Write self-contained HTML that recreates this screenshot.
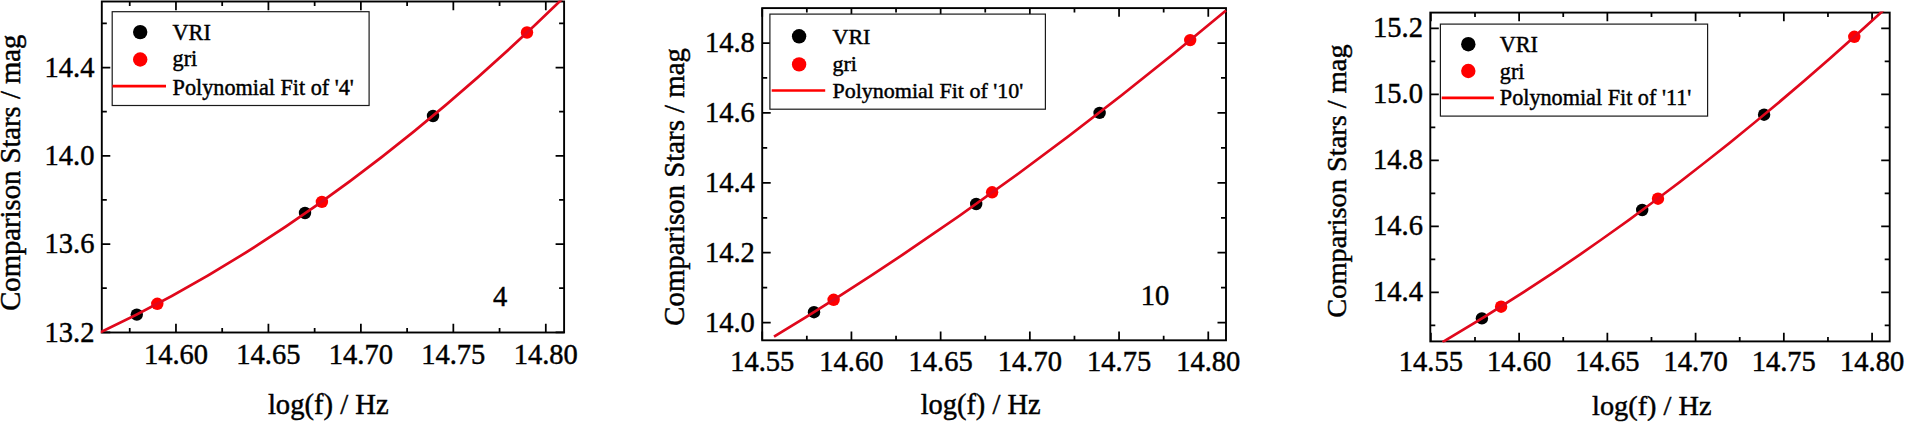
<!DOCTYPE html>
<html><head><meta charset="utf-8"><style>
html,body{margin:0;padding:0;background:#fff;width:1905px;height:422px;overflow:hidden}
svg{display:block}
text{font-family:"Liberation Serif", "Times New Roman", serif;fill:#000;stroke:#000;stroke-width:0.45px}
.tl{font-size:28.5px}
.ti{font-size:29px}
.lg{font-size:22.4px}
</style></head><body>
<svg width="1905" height="422" viewBox="0 0 1905 422">
<clipPath id="c0"><rect x="100.8" y="0.5" width="464.3" height="333.0"/></clipPath>
<circle cx="136.8" cy="314.6" r="6.2" fill="#000"/>
<circle cx="305.0" cy="213.0" r="6.2" fill="#000"/>
<circle cx="433.0" cy="116.0" r="6.2" fill="#000"/>
<circle cx="157.3" cy="303.8" r="6.2" fill="#f00"/>
<circle cx="321.9" cy="201.9" r="6.2" fill="#f00"/>
<circle cx="527.0" cy="32.5" r="6.2" fill="#f00"/>
<path d="M175.96,332.5v-8.7M175.96,1.5v8.7M268.42,332.5v-8.7M268.42,1.5v8.7M360.88,332.5v-8.7M360.88,1.5v8.7M453.34,332.5v-8.7M453.34,1.5v8.7M545.80,332.5v-8.7M545.80,1.5v8.7M129.73,332.5v-4.5M129.73,1.5v4.5M222.19,332.5v-4.5M222.19,1.5v4.5M314.65,332.5v-4.5M314.65,1.5v4.5M407.11,332.5v-4.5M407.11,1.5v4.5M499.57,332.5v-4.5M499.57,1.5v4.5M101.8,332.37h8.5M564.1,332.37h-8.5M101.8,244.09h8.5M564.1,244.09h-8.5M101.8,155.81h8.5M564.1,155.81h-8.5M101.8,67.53h8.5M564.1,67.53h-8.5M101.8,288.23h5M564.1,288.23h-5M101.8,199.95h5M564.1,199.95h-5M101.8,111.67h5M564.1,111.67h-5M101.8,23.39h5M564.1,23.39h-5" stroke="#000" stroke-width="1.75" fill="none"/>
<rect x="101.8" y="1.5" width="462.3" height="331.0" fill="none" stroke="#000" stroke-width="1.9"/>
<path d="M95.70,334.47Q329.90,225.94 564.10,-2.89" fill="none" stroke="#e0081c" stroke-width="2.7" clip-path="url(#c0)"/>
<rect x="112.2" y="11.7" width="256.90000000000003" height="93.8" fill="#fff" stroke="#1a1a1a" stroke-width="1.2"/>
<circle cx="140.2" cy="32.1" r="7.2" fill="#000"/>
<circle cx="140.2" cy="59.5" r="7.2" fill="#f00"/>
<path d="M112.5,86.1H166.0" stroke="#f00" stroke-width="2.6"/>
<text x="172.6" y="39.9" class="lg" style="font-size:22.2px">VRI</text>
<text x="172.6" y="66.1" class="lg" style="font-size:22.2px">gri</text>
<text x="172.6" y="94.8" class="lg" style="font-size:22.2px">Polynomial Fit of '4'</text>
<text x="94.4" y="341.6" class="tl" text-anchor="end">13.2</text>
<text x="94.4" y="253.3" class="tl" text-anchor="end">13.6</text>
<text x="94.4" y="165.0" class="tl" text-anchor="end">14.0</text>
<text x="94.4" y="76.7" class="tl" text-anchor="end">14.4</text>
<text x="176.0" y="363.5" class="tl" text-anchor="middle">14.60</text>
<text x="268.4" y="363.5" class="tl" text-anchor="middle">14.65</text>
<text x="360.9" y="363.5" class="tl" text-anchor="middle">14.70</text>
<text x="453.3" y="363.5" class="tl" text-anchor="middle">14.75</text>
<text x="545.8" y="363.5" class="tl" text-anchor="middle">14.80</text>
<text x="492.9" y="306.2" class="tl">4</text>
<text x="267.9" y="413.8" class="ti" style="font-size:28.6px">log(f) / Hz</text>
<text transform="translate(20.0,310.8) rotate(-90)" class="ti" style="font-size:28.66px">Comparison Stars / mag</text>
<clipPath id="c1"><rect x="761.2" y="7.1" width="465.79999999999995" height="334.2"/></clipPath>
<circle cx="814.0" cy="312.2" r="6.2" fill="#000"/>
<circle cx="976.2" cy="204.0" r="6.2" fill="#000"/>
<circle cx="1099.6" cy="112.9" r="6.2" fill="#000"/>
<circle cx="833.6" cy="299.8" r="6.2" fill="#f00"/>
<circle cx="992.1" cy="192.3" r="6.2" fill="#f00"/>
<circle cx="1190.2" cy="40.1" r="6.2" fill="#f00"/>
<path d="M762.23,340.3v-8.7M762.23,8.1v8.7M851.43,340.3v-8.7M851.43,8.1v8.7M940.64,340.3v-8.7M940.64,8.1v8.7M1029.85,340.3v-8.7M1029.85,8.1v8.7M1119.06,340.3v-8.7M1119.06,8.1v8.7M1208.28,340.3v-8.7M1208.28,8.1v8.7M806.83,340.3v-4.5M806.83,8.1v4.5M896.04,340.3v-4.5M896.04,8.1v4.5M985.25,340.3v-4.5M985.25,8.1v4.5M1074.46,340.3v-4.5M1074.46,8.1v4.5M1163.67,340.3v-4.5M1163.67,8.1v4.5M762.2,322.60h8.5M1226.0,322.60h-8.5M762.2,252.70h8.5M1226.0,252.70h-8.5M762.2,182.80h8.5M1226.0,182.80h-8.5M762.2,112.90h8.5M1226.0,112.90h-8.5M762.2,43.00h8.5M1226.0,43.00h-8.5M762.2,287.65h5M1226.0,287.65h-5M762.2,217.75h5M1226.0,217.75h-5M762.2,147.85h5M1226.0,147.85h-5M762.2,77.95h5M1226.0,77.95h-5" stroke="#000" stroke-width="1.75" fill="none"/>
<rect x="762.2" y="8.1" width="463.79999999999995" height="332.2" fill="none" stroke="#000" stroke-width="1.9"/>
<path d="M774.00,336.71Q1000.00,200.26 1226.00,10.55" fill="none" stroke="#e0081c" stroke-width="2.7" clip-path="url(#c1)"/>
<rect x="769.9" y="14.1" width="275.5000000000001" height="95.10000000000001" fill="#fff" stroke="#1a1a1a" stroke-width="1.2"/>
<circle cx="799.1" cy="36.3" r="7.2" fill="#000"/>
<circle cx="799.1" cy="64.4" r="7.2" fill="#f00"/>
<path d="M771.7,90.5H825.2" stroke="#f00" stroke-width="2.6"/>
<text x="832.5" y="44.0" class="lg" style="font-size:22.0px">VRI</text>
<text x="832.5" y="71.0" class="lg" style="font-size:22.0px">gri</text>
<text x="832.5" y="98.3" class="lg" style="font-size:22.0px">Polynomial Fit of '10'</text>
<text x="754.8" y="331.8" class="tl" text-anchor="end">14.0</text>
<text x="754.8" y="261.9" class="tl" text-anchor="end">14.2</text>
<text x="754.8" y="192.0" class="tl" text-anchor="end">14.4</text>
<text x="754.8" y="122.1" class="tl" text-anchor="end">14.6</text>
<text x="754.8" y="52.2" class="tl" text-anchor="end">14.8</text>
<text x="762.2" y="371.3" class="tl" text-anchor="middle">14.55</text>
<text x="851.4" y="371.3" class="tl" text-anchor="middle">14.60</text>
<text x="940.6" y="371.3" class="tl" text-anchor="middle">14.65</text>
<text x="1029.9" y="371.3" class="tl" text-anchor="middle">14.70</text>
<text x="1119.1" y="371.3" class="tl" text-anchor="middle">14.75</text>
<text x="1208.3" y="371.3" class="tl" text-anchor="middle">14.80</text>
<text x="1140.7" y="305.1" class="tl">10</text>
<text x="920.7" y="413.8" class="ti" style="font-size:28.4px">log(f) / Hz</text>
<text transform="translate(684.0,325.7) rotate(-90)" class="ti" style="font-size:28.81px">Comparison Stars / mag</text>
<clipPath id="c2"><rect x="1429.3" y="11.6" width="461.4000000000001" height="330.79999999999995"/></clipPath>
<circle cx="1481.9" cy="318.4" r="6.2" fill="#000"/>
<circle cx="1642.2" cy="210.0" r="6.2" fill="#000"/>
<circle cx="1764.1" cy="114.7" r="6.2" fill="#000"/>
<circle cx="1501.1" cy="306.7" r="6.2" fill="#f00"/>
<circle cx="1658.0" cy="198.7" r="6.2" fill="#f00"/>
<circle cx="1854.3" cy="36.8" r="6.2" fill="#f00"/>
<path d="M1430.88,341.4v-8.7M1430.88,12.6v8.7M1519.12,341.4v-8.7M1519.12,12.6v8.7M1607.36,341.4v-8.7M1607.36,12.6v8.7M1695.60,341.4v-8.7M1695.60,12.6v8.7M1783.84,341.4v-8.7M1783.84,12.6v8.7M1872.08,341.4v-8.7M1872.08,12.6v8.7M1475.00,341.4v-4.5M1475.00,12.6v4.5M1563.24,341.4v-4.5M1563.24,12.6v4.5M1651.48,341.4v-4.5M1651.48,12.6v4.5M1739.72,341.4v-4.5M1739.72,12.6v4.5M1827.96,341.4v-4.5M1827.96,12.6v4.5M1430.3,292.28h8.5M1889.7,292.28h-8.5M1430.3,226.33h8.5M1889.7,226.33h-8.5M1430.3,160.38h8.5M1889.7,160.38h-8.5M1430.3,94.43h8.5M1889.7,94.43h-8.5M1430.3,28.48h8.5M1889.7,28.48h-8.5M1430.3,325.25h5M1889.7,325.25h-5M1430.3,259.31h5M1889.7,259.31h-5M1430.3,193.36h5M1889.7,193.36h-5M1430.3,127.41h5M1889.7,127.41h-5M1430.3,61.46h5M1889.7,61.46h-5" stroke="#000" stroke-width="1.75" fill="none"/>
<rect x="1430.3" y="12.6" width="459.4000000000001" height="328.79999999999995" fill="none" stroke="#000" stroke-width="1.9"/>
<path d="M1442.53,342.10Q1666.11,211.47 1889.70,4.50" fill="none" stroke="#e0081c" stroke-width="2.7" clip-path="url(#c2)"/>
<rect x="1440.4" y="24.1" width="267.1999999999998" height="92.0" fill="#fff" stroke="#1a1a1a" stroke-width="1.2"/>
<circle cx="1468.3" cy="44.2" r="7.2" fill="#000"/>
<circle cx="1468.3" cy="71.0" r="7.2" fill="#f00"/>
<path d="M1441.7,97.9H1493.9" stroke="#f00" stroke-width="2.6"/>
<text x="1499.8" y="51.5" class="lg" style="font-size:22.2px">VRI</text>
<text x="1499.8" y="78.9" class="lg" style="font-size:22.2px">gri</text>
<text x="1499.8" y="104.9" class="lg" style="font-size:22.2px">Polynomial Fit of '11'</text>
<text x="1422.9" y="300.5" class="tl" text-anchor="end">14.4</text>
<text x="1422.9" y="234.5" class="tl" text-anchor="end">14.6</text>
<text x="1422.9" y="168.6" class="tl" text-anchor="end">14.8</text>
<text x="1422.9" y="102.6" class="tl" text-anchor="end">15.0</text>
<text x="1422.9" y="36.7" class="tl" text-anchor="end">15.2</text>
<text x="1430.9" y="371.4" class="tl" text-anchor="middle">14.55</text>
<text x="1519.1" y="371.4" class="tl" text-anchor="middle">14.60</text>
<text x="1607.4" y="371.4" class="tl" text-anchor="middle">14.65</text>
<text x="1695.6" y="371.4" class="tl" text-anchor="middle">14.70</text>
<text x="1783.8" y="371.4" class="tl" text-anchor="middle">14.75</text>
<text x="1872.1" y="371.4" class="tl" text-anchor="middle">14.80</text>
<text x="1592.1" y="414.5" class="ti" style="font-size:28.3px">log(f) / Hz</text>
<text transform="translate(1346.0,317.7) rotate(-90)" class="ti" style="font-size:28.36px">Comparison Stars / mag</text>
</svg>
</body></html>
